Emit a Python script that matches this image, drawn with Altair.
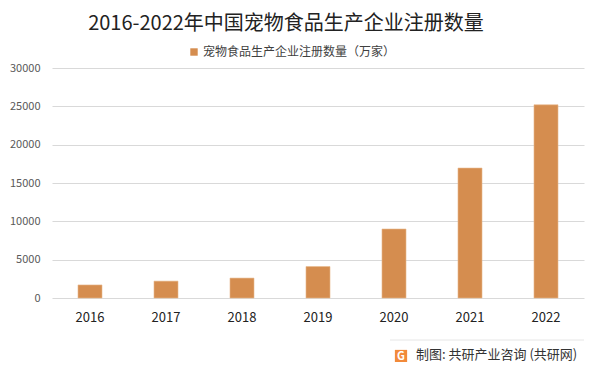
import altair as alt
import pandas as pd

years = ["2016", "2017", "2018", "2019", "2020", "2021", "2022"]
counts = [1700, 2200, 2600, 4100, 9000, 16950, 25200]
series_name = "宠物食品生产企业注册数量（万家）"
title_text = "2016-2022年中国宠物食品生产企业注册数量"
footer_text = "制图: 共研产业咨询 (共研网)"
y_ticks = [0, 5000, 10000, 15000, 20000, 25000, 30000]

df = pd.DataFrame({"year": years, "count": counts, "series": [series_name] * len(years)})
one = pd.DataFrame({"k": [0]})

FONT = "Noto Sans CJK SC"

bars = alt.Chart(df).mark_bar(color="#D58D4F", stroke="#E8B88E", strokeWidth=0.6).encode(
    x=alt.X("year:N", sort=years, title=None,
            scale=alt.Scale(paddingInner=0.684, paddingOuter=0.342),
            axis=alt.Axis(labelAngle=0, ticks=False, domain=False, labelPadding=13,
                          labelFontSize=13, labelColor="#222222", labelFont=FONT)),
    y=alt.Y("count:Q", title=None,
            scale=alt.Scale(domain=[0, 30000], nice=False),
            axis=alt.Axis(values=y_ticks, format="d", ticks=False, domain=False, labelPadding=12,
                          labelFontSize=11, labelColor="#595959", labelFont=FONT,
                          gridColor="#D9D9D9", gridWidth=1)),
    fill=alt.Fill("series:N", scale=alt.Scale(range=["#D58D4F"]),
                  legend=alt.Legend(title=None, orient="none", legendX=136, legendY=-22,
                                    symbolType="square", symbolSize=55, labelLimit=0,
                                    labelFontSize=12, labelFont=FONT, labelColor="#404040",
                                    labelOffset=3, symbolStrokeWidth=0)),
)

title = alt.Chart(one).mark_text(text=title_text, align="center", baseline="middle",
                                 fontSize=20, fill="#222222", font=FONT, fontWeight="normal").encode(
    x=alt.value(234), y=alt.value(-44)
)

sep = alt.Chart(one).mark_rule(color="#E6E6E6", strokeWidth=1).encode(
    x=alt.value(338), x2=alt.value(532), y=alt.value(272)
)

logo = alt.Chart(one).mark_point(shape="square", filled=True, color="#F28A3A", size=150, opacity=1).encode(
    x=alt.value(349), y=alt.value(288)
)
logo_g = alt.Chart(one).mark_text(text="G", fill="white", fontSize=11, fontWeight="bold", font=FONT).encode(
    x=alt.value(349), y=alt.value(289)
)
footer = alt.Chart(one).mark_text(text=footer_text, align="left", baseline="middle",
                                  fontSize=13, fill="#333333", font=FONT, fontWeight="normal").encode(
    x=alt.value(364), y=alt.value(287)
)

chart = alt.layer(bars, title, sep, logo, logo_g, footer).properties(
    width=532, height=230,
    background="white",
    autosize=alt.AutoSizeParams(type="none"),
    padding={"left": 44, "top": 60, "right": 6, "bottom": 64},
).configure_view(stroke=None)

chart.save("out.html", embed_options={"renderer": "svg", "actions": False})
